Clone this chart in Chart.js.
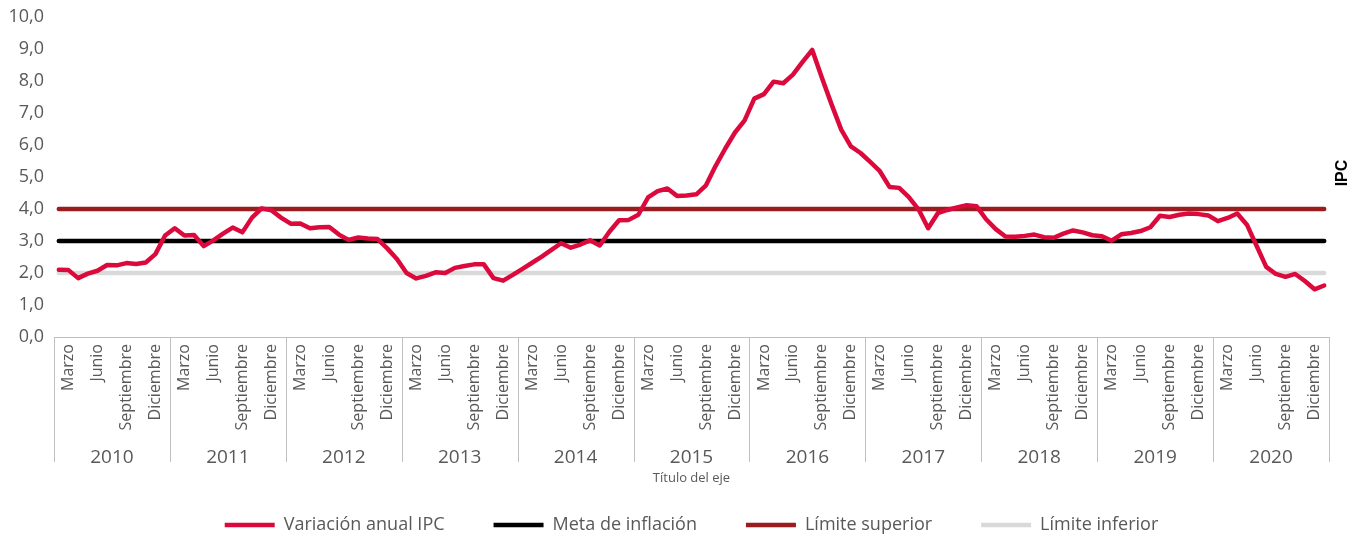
<!DOCTYPE html>
<html lang="es">
<head>
<meta charset="utf-8">
<title>Variación anual IPC</title>
<script src="https://cdn.jsdelivr.net/npm/chart.js@4.4.1/dist/chart.umd.min.js"></script>
<style>
    html, body { margin: 0; padding: 0; background: #fff; }
    #wrap { width: 1365px; height: 541px; }
</style>
</head>
<body>
<div id="wrap"><canvas id="ipcChart" width="1365" height="541"></canvas></div>
<script>
// Datos del gráfico
const years = ['2010', '2011', '2012', '2013', '2014', '2015', '2016', '2017', '2018', '2019', '2020'];
// etiquetas de mes tal como aparecen en el eje (una cada tres meses)
const monthTickLabels = ['', 'Marzo', '', '', 'Junio', '', '', 'Septiembre', '', '', 'Diciembre', ''];
const yTicks = [0, 1, 2, 3, 4, 5, 6, 7, 8, 9, 10];

// Variación anual IPC (%), enero a diciembre de cada año
const ipc2010 = [2.10, 2.09, 1.84, 1.98, 2.07, 2.25, 2.24, 2.31, 2.28, 2.33, 2.59, 3.17];
const ipc2011 = [3.40, 3.17, 3.19, 2.84, 3.02, 3.23, 3.42, 3.27, 3.73, 4.02, 3.96, 3.73];
const ipc2012 = [3.54, 3.55, 3.40, 3.43, 3.44, 3.20, 3.03, 3.11, 3.08, 3.06, 2.77, 2.44];
const ipc2013 = [2.00, 1.83, 1.91, 2.02, 2.00, 2.16, 2.22, 2.27, 2.27, 1.84, 1.76, 1.94];
const ipc2014 = [2.13, 2.32, 2.51, 2.72, 2.93, 2.79, 2.89, 3.02, 2.86, 3.29, 3.65, 3.66];
const ipc2015 = [3.82, 4.36, 4.56, 4.64, 4.41, 4.42, 4.46, 4.74, 5.35, 5.89, 6.39, 6.77];
const ipc2016 = [7.45, 7.59, 7.98, 7.93, 8.20, 8.60, 8.97, 8.10, 7.27, 6.48, 5.96, 5.75];
const ipc2017 = [5.47, 5.18, 4.69, 4.66, 4.37, 3.99, 3.40, 3.87, 3.97, 4.05, 4.12, 4.09];
const ipc2018 = [3.68, 3.37, 3.14, 3.13, 3.16, 3.20, 3.12, 3.10, 3.23, 3.33, 3.27, 3.18];
const ipc2019 = [3.15, 3.01, 3.21, 3.25, 3.31, 3.43, 3.79, 3.75, 3.82, 3.86, 3.84, 3.80];
const ipc2020 = [3.62, 3.72, 3.86, 3.51, 2.85, 2.19, 1.97, 1.88, 1.97, 1.75, 1.49, 1.61];

const metaInflacion = 3.0;
const limiteSuperior = 4.0;
const limiteInferior = 2.0;

const FONT = "'Open Sans', Lato, sans-serif";
const GREY_TEXT = '#595959';
const AXIS_GREY = '#BFBFBF';

// una categoría por mes: "2010-1" ... "2020-12"
const categories = years.flatMap(y => monthTickLabels.map((_, m) => y + '-' + (m + 1)));
const ipcSeries = [].concat(ipc2010, ipc2011, ipc2012, ipc2013, ipc2014, ipc2015,
    ipc2016, ipc2017, ipc2018, ipc2019, ipc2020);

// línea horizontal de primera a última categoría
function flatLine(value) {
    return [{ x: categories[0], y: value }, { x: categories[categories.length - 1], y: value }];
}

// años, separadores, título del eje y "IPC"
const extraAxisPlugin = {
    id: 'extraAxis',
    afterDraw(chart) {
        const { ctx, chartArea } = chart;
        const x = chart.scales.x;
        const step = x.getPixelForValue(1) - x.getPixelForValue(0);
        const base = chartArea.bottom;
        ctx.save();
        ctx.strokeStyle = AXIS_GREY;
        ctx.lineWidth = 1;
        for (let k = 0; k <= years.length; k++) {
            const px = Math.round(x.getPixelForValue(k * 12) - step / 2) + 0.5;
            ctx.beginPath();
            ctx.moveTo(px, base);
            ctx.lineTo(px, base + 125);
            ctx.stroke();
        }
        ctx.fillStyle = GREY_TEXT;
        ctx.textAlign = 'center';
        ctx.textBaseline = 'middle';
        ctx.font = '19px ' + FONT;
        years.forEach((yr, k) => {
            ctx.fillText(yr, x.getPixelForValue(k * 12 + 5.5), base + 121);
        });
        ctx.font = '13px ' + FONT;
        ctx.fillText('Título del eje', (chartArea.left + chartArea.right) / 2, base + 141);

        ctx.translate(chartArea.right + 14, (chartArea.top + chartArea.bottom) / 2 - 4);
        ctx.rotate(-Math.PI / 2);
        ctx.fillStyle = '#000';
        ctx.font = "bold 16px 'Liberation Sans', Arial, sans-serif";
        ctx.fillText('IPC', 0, 0);
        ctx.restore();
    }
};

new Chart(document.getElementById('ipcChart'), {
    type: 'line',
    data: {
        labels: categories,
        datasets: [
            {
                label: 'Variación anual IPC',
                data: ipcSeries,
                borderColor: '#DC0A3C',
                backgroundColor: '#DC0A3C',
                borderWidth: 4.5,
                borderCapStyle: 'round',
                borderJoinStyle: 'round',
                pointRadius: 0,
                tension: 0
            },
            {
                label: 'Meta de inflación',
                data: flatLine(metaInflacion),
                borderColor: '#000000',
                backgroundColor: '#000000',
                borderWidth: 4.5,
                borderCapStyle: 'round',
                pointRadius: 0
            },
            {
                label: 'Límite superior',
                data: flatLine(limiteSuperior),
                borderColor: '#9B1B1F',
                backgroundColor: '#9B1B1F',
                borderWidth: 4.5,
                borderCapStyle: 'round',
                pointRadius: 0
            },
            {
                label: 'Límite inferior',
                data: flatLine(limiteInferior),
                borderColor: '#D9D9D9',
                backgroundColor: '#D9D9D9',
                borderWidth: 4.5,
                borderCapStyle: 'round',
                pointRadius: 0
            }
        ]
    },
    options: {
        responsive: false,
        animation: false,
        devicePixelRatio: 1,
        layout: { padding: { top: 17, right: 36, bottom: -3, left: 0 } },
        plugins: {
            legend: {
                position: 'bottom',
                fullSize: false,
                labels: {
                    usePointStyle: true,
                    pointStyle: 'line',
                    pointStyleWidth: 50,
                    padding: 49,
                    color: GREY_TEXT,
                    font: { family: FONT, size: 18 }
                }
            },
            tooltip: { enabled: false }
        },
        scales: {
            x: {
                offset: true,
                grid: { display: false, drawTicks: false },
                border: { display: true, color: AXIS_GREY, width: 1 },
                ticks: {
                    autoSkip: false,
                    minRotation: 90,
                    maxRotation: 90,
                    padding: 7,
                    color: GREY_TEXT,
                    font: { family: FONT, size: 16 },
                    callback: (v, i) => monthTickLabels[i % 12]
                },
                afterFit: s => { s.height = 130; }
            },
            y: {
                min: yTicks[0],
                max: yTicks[yTicks.length - 1],
                grid: { display: false, drawTicks: false },
                border: { display: false },
                ticks: {
                    stepSize: 1,
                    padding: 10,
                    color: GREY_TEXT,
                    font: { family: FONT, size: 18 },
                    callback: v => v.toFixed(1).replace('.', ',')
                },
                afterFit: s => { s.width = 54; s.paddingTop = 0; s.paddingBottom = 0; }
            }
        }
    },
    plugins: [extraAxisPlugin]
});
</script>
</body>
</html>
